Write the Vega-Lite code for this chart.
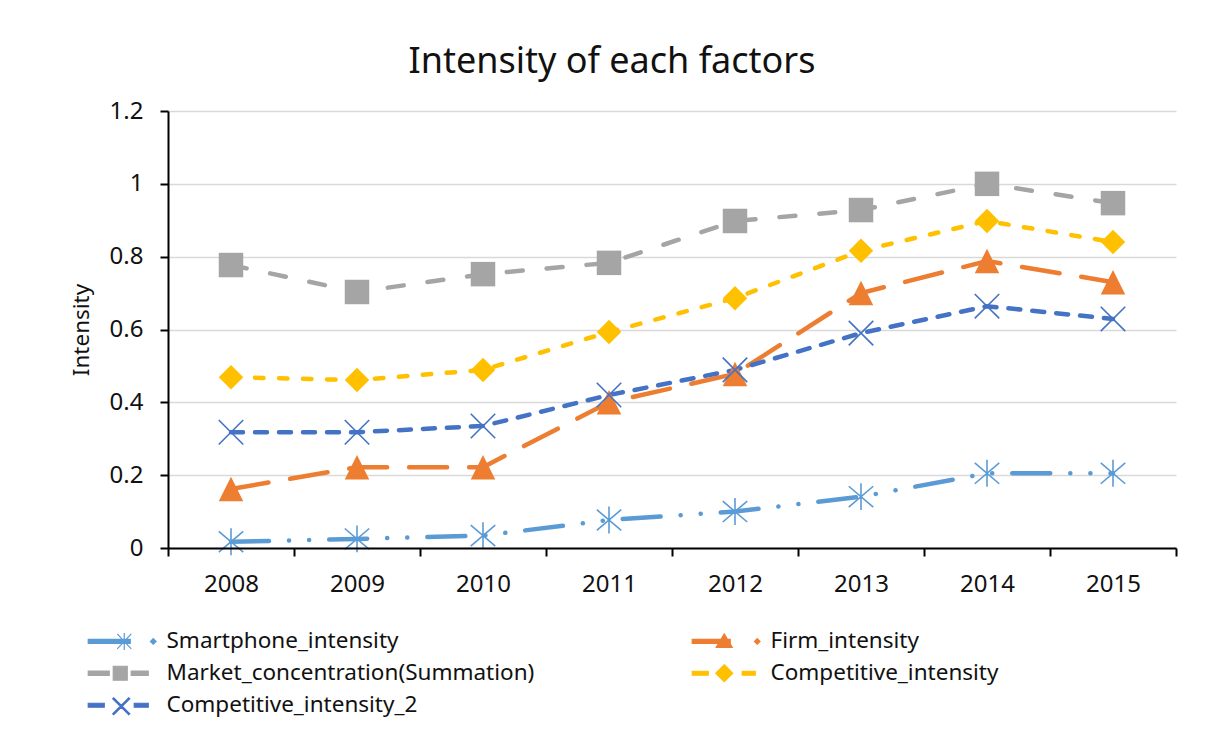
{
  "$schema": "https://vega.github.io/schema/vega-lite/v6.json",
  "autosize": {"type": "none"},
  "width": 1008,
  "height": 437,
  "padding": {"left": 168, "top": 111, "right": 36, "bottom": 183},
  "background": "white",
  "title": {
    "text": "Intensity of each factors",
    "font": "Noto Sans",
    "fontSize": 36,
    "fontWeight": "normal",
    "color": "#111111",
    "anchor": "middle",
    "dx": -60,
    "offset": 18
  },
  "data": {
    "values": [
      {"year": "2008", "series": "Smartphone_intensity", "value": 0.017},
      {"year": "2009", "series": "Smartphone_intensity", "value": 0.025},
      {"year": "2010", "series": "Smartphone_intensity", "value": 0.034},
      {"year": "2011", "series": "Smartphone_intensity", "value": 0.077},
      {"year": "2012", "series": "Smartphone_intensity", "value": 0.100},
      {"year": "2013", "series": "Smartphone_intensity", "value": 0.141},
      {"year": "2014", "series": "Smartphone_intensity", "value": 0.205},
      {"year": "2015", "series": "Smartphone_intensity", "value": 0.205},
      {"year": "2008", "series": "Firm_intensity", "value": 0.162},
      {"year": "2009", "series": "Firm_intensity", "value": 0.222},
      {"year": "2010", "series": "Firm_intensity", "value": 0.222},
      {"year": "2011", "series": "Firm_intensity", "value": 0.400},
      {"year": "2012", "series": "Firm_intensity", "value": 0.478},
      {"year": "2013", "series": "Firm_intensity", "value": 0.700},
      {"year": "2014", "series": "Firm_intensity", "value": 0.788},
      {"year": "2015", "series": "Firm_intensity", "value": 0.730},
      {"year": "2008", "series": "Market_concentration(Summation)", "value": 0.777},
      {"year": "2009", "series": "Market_concentration(Summation)", "value": 0.703},
      {"year": "2010", "series": "Market_concentration(Summation)", "value": 0.752},
      {"year": "2011", "series": "Market_concentration(Summation)", "value": 0.783},
      {"year": "2012", "series": "Market_concentration(Summation)", "value": 0.898},
      {"year": "2013", "series": "Market_concentration(Summation)", "value": 0.928},
      {"year": "2014", "series": "Market_concentration(Summation)", "value": 1.000},
      {"year": "2015", "series": "Market_concentration(Summation)", "value": 0.947},
      {"year": "2008", "series": "Competitive_intensity", "value": 0.469},
      {"year": "2009", "series": "Competitive_intensity", "value": 0.461},
      {"year": "2010", "series": "Competitive_intensity", "value": 0.489},
      {"year": "2011", "series": "Competitive_intensity", "value": 0.593},
      {"year": "2012", "series": "Competitive_intensity", "value": 0.686},
      {"year": "2013", "series": "Competitive_intensity", "value": 0.816},
      {"year": "2014", "series": "Competitive_intensity", "value": 0.898},
      {"year": "2015", "series": "Competitive_intensity", "value": 0.840},
      {"year": "2008", "series": "Competitive_intensity_2", "value": 0.318},
      {"year": "2009", "series": "Competitive_intensity_2", "value": 0.318},
      {"year": "2010", "series": "Competitive_intensity_2", "value": 0.335},
      {"year": "2011", "series": "Competitive_intensity_2", "value": 0.420},
      {"year": "2012", "series": "Competitive_intensity_2", "value": 0.489},
      {"year": "2013", "series": "Competitive_intensity_2", "value": 0.590},
      {"year": "2014", "series": "Competitive_intensity_2", "value": 0.664},
      {"year": "2015", "series": "Competitive_intensity_2", "value": 0.629}
    ]
  },
  "encoding": {
    "x": {
      "field": "year",
      "type": "nominal",
      "bandPosition": 0.5,
      "scale": {"type": "band", "paddingInner": 0, "paddingOuter": 0},
      "axis": {
        "title": null,
        "labelAngle": 0,
        "tickBand": "extent",
        "tickSize": 8,
        "tickWidth": 2,
        "tickColor": "#000000",
        "domainColor": "#000000",
        "domainWidth": 2,
        "labelPadding": 16,
        "labelFont": "Noto Sans",
        "labelFontSize": 24,
        "labelColor": "#111111",
        "grid": false,
        "zindex": 1
      }
    },
    "y": {
      "field": "value",
      "type": "quantitative",
      "scale": {"domain": [0, 1.2], "nice": false, "zero": true},
      "axis": {
        "title": "Intensity",
        "titleFont": "Noto Sans",
        "titleFontSize": 22.5,
        "titleFontWeight": "normal",
        "titleColor": "#111111",
        "titlePadding": 16,
        "values": [0, 0.2, 0.4, 0.6, 0.8, 1, 1.2],
        "labelExpr": "format(datum.value, '~g')",
        "labelFont": "Noto Sans",
        "labelFontSize": 24,
        "labelColor": "#111111",
        "labelPadding": 17,
        "tickSize": 8,
        "tickWidth": 2,
        "tickColor": "#000000",
        "domainColor": "#000000",
        "domainWidth": 2,
        "grid": true,
        "gridColor": "#d9d9d9",
        "gridWidth": 1.5,
        "zindex": 0
      }
    }
  },
  "layer": [
    {
      "mark": {"type": "line", "strokeWidth": 4.5, "strokeCap": "round"},
      "encoding": {
        "color": {
          "field": "series",
          "type": "nominal",
          "scale": {
            "domain": ["Smartphone_intensity", "Firm_intensity", "Market_concentration(Summation)", "Competitive_intensity", "Competitive_intensity_2"],
            "range": ["#5B9BD5", "#ED7D31", "#A5A5A5", "#FFC000", "#4472C4"]
          },
          "legend": {
            "title": null,
            "orient": "none",
            "direction": "horizontal",
            "legendX": -59,
            "legendY": 519,
            "columns": 2,
            "columnPadding": 154,
            "rowPadding": 9,
            "symbolSize": 400,
            "symbolStrokeWidth": 1.2,
            "labelOffset": 35,
            "labelFont": "Noto Sans",
            "labelFontSize": 22.5,
            "labelColor": "#111111",
            "labelLimit": 600,
            "encode": {
              "symbols": {
                "update": {
                  "shape": {"signal": "datum.value === 'Smartphone_intensity' ? 'M-3.2,-0.2H1V0.2H-3.2Z M-0.3,-0.75L1.1,0.75M-0.3,0.75L1.1,-0.75M0.4,-0.85V0.85 M3.3,-0.28L3.58,0L3.3,0.28L3.02,0Z' : datum.value === 'Firm_intensity' ? 'M-3.2,-0.2H0.6V0.2H-3.2Z M-0.8,0.6L0,-0.75L0.8,0.6Z M3.3,-0.28L3.58,0L3.3,0.28L3.02,0Z' : datum.value === 'Market_concentration(Summation)' ? 'M-3.2,-0.22H-1.1V0.22H-3.2Z M-0.7,-0.7H0.7V0.7H-0.7Z M1.1,-0.22H2.8V0.22H1.1Z' : datum.value === 'Competitive_intensity' ? 'M-3.2,-0.2H-1.6V0.2H-3.2Z M0,-0.85L0.85,0L0,0.85L-0.85,0Z M1.8,-0.2H3.1V0.2H1.8Z' : 'M-3.2,-0.2H-1.6V0.2H-3.2Z M-0.75,-0.65L0.85,0.95L0.95,0.85L-0.65,-0.75Z M-0.75,0.85L-0.65,0.95L0.95,-0.65L0.85,-0.75Z M1.4,-0.2H2.8V0.2H1.4Z'"},
                  "fill": {"signal": "scale('color', datum.value)"},
                  "stroke": {"signal": "scale('color', datum.value)"},
                  "strokeWidth": {"value": 1.2},
                  "strokeDash": {"value": []},
                  "opacity": {"value": 1}
                }
              }
            }
          }
        },
        "strokeDash": {
          "field": "series",
          "type": "nominal",
          "legend": null,
          "scale": {
            "domain": ["Competitive_intensity_2", "Smartphone_intensity", "Firm_intensity", "Market_concentration(Summation)", "Competitive_intensity"],
            "range": [[12, 12], [38, 20, 0.1, 20, 0.1, 20], [38, 22], [16, 24], [8.5, 15.5]]
          }
        }
      }
    },
    {
      "transform": [{"filter": {"field": "series", "oneOf": ["Firm_intensity", "Market_concentration(Summation)", "Competitive_intensity"]}}],
      "mark": {"type": "point", "filled": true, "opacity": 1, "strokeWidth": 0},
      "encoding": {
        "fill": {
          "field": "series",
          "type": "nominal",
          "legend": null,
          "scale": {
            "domain": ["Competitive_intensity_2", "Smartphone_intensity", "Firm_intensity", "Market_concentration(Summation)", "Competitive_intensity"],
            "range": ["#4472C4", "#5B9BD5", "#ED7D31", "#A5A5A5", "#FFC000"]
          }
        },
        "shape": {
          "field": "series",
          "type": "nominal",
          "legend": null,
          "scale": {
            "domain": ["Competitive_intensity_2", "Smartphone_intensity", "Firm_intensity", "Market_concentration(Summation)", "Competitive_intensity"],
            "range": ["M-1,-1L1,1M-1,1L1,-1", "M-1,-0.85L1,0.85M-1,0.85L1,-0.85M0,-1.1V1.1", "M0,-1L1,1L-1,1Z", "square", "diamond"]
          }
        },
        "size": {
          "field": "series",
          "type": "nominal",
          "legend": null,
          "scale": {
            "domain": ["Competitive_intensity_2", "Smartphone_intensity", "Firm_intensity", "Market_concentration(Summation)", "Competitive_intensity"],
            "range": [600, 600, 625, 625, 600]
          }
        }
      }
    },
    {
      "transform": [{"filter": {"field": "series", "oneOf": ["Smartphone_intensity", "Competitive_intensity_2"]}}],
      "mark": {"type": "point", "filled": false, "opacity": 1, "strokeWidth": 1.6},
      "encoding": {
        "stroke": {
          "field": "series",
          "type": "nominal",
          "legend": null,
          "scale": {
            "domain": ["Competitive_intensity_2", "Smartphone_intensity", "Firm_intensity", "Market_concentration(Summation)", "Competitive_intensity"],
            "range": ["#4472C4", "#5B9BD5", "#ED7D31", "#A5A5A5", "#FFC000"]
          }
        },
        "shape": {"field": "series", "type": "nominal", "legend": null},
        "size": {"field": "series", "type": "nominal", "legend": null}
      }
    }
  ],
  "config": {
    "view": {"stroke": null},
    "font": "Noto Sans"
  }
}
